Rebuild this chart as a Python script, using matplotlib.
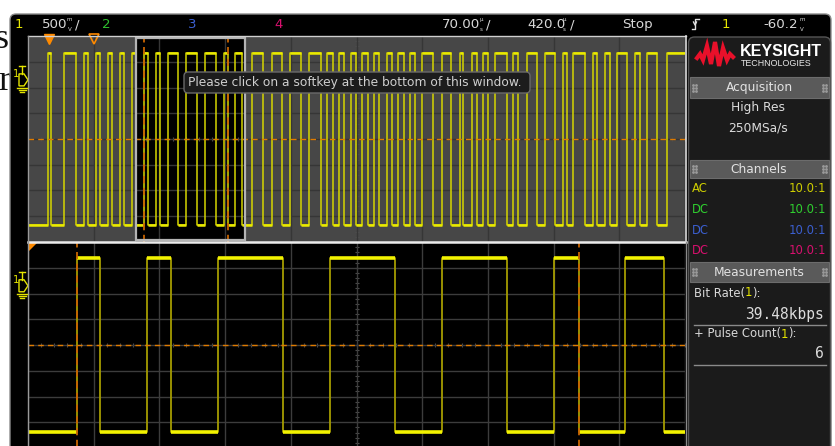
import numpy as np
import matplotlib
matplotlib.use("Agg")
import matplotlib.pyplot as plt
from matplotlib import font_manager
from matplotlib.patches import Rectangle, FancyBboxPatch, Polygon

#%% data
# channel 1 edge times in us (overview time base, 420 us/div), trace starts low
edges_us = [131, 147, 230, 307, 358, 384, 433, 460, 510, 535, 588, 611, 663, 690.5,
            742, 767, 817, 842, 892, 962, 1012, 1081, 1131, 1200, 1250, 1277, 1326, 1368,
            1434, 1504, 1560, 1624, 1678, 1745, 1796, 1870, 1910, 1947, 1991, 2023,
            2065, 2097, 2137, 2174, 2212, 2244, 2293, 2325, 2365, 2404, 2442, 2474,
            2517, 2589, 2645, 2704, 2762, 2781, 2837, 2869, 2909, 2941, 2986, 3060,
            3101, 3133, 3188, 3252, 3305, 3369, 3419, 3443, 3484, 3560, 3612, 3635,
            3688, 3720, 3763, 3828, 3880, 3912, 3955, 4019, 4083]
v_high, v_low = 1.68, -1.68          # volts relative to screen centre
overview_us = (0, 4200)              # 10 div x 420 us
zoom_us = (690, 1390)                # 10 div x 70 us
cursor_us = [742, 1277]
marker_us = [134, 422]
ground_v = 1.15
volts_per_div = 0.5

top_bar = [("1", "#e6e600"), ("500", "#d8d8d8"), ("2", "#2fc02f"), ("3", "#3b5fd0"),
           ("4", "#d8106e"), ("70.00", "#d8d8d8"), ("420.0", "#d8d8d8"), ("Stop", "#d8d8d8"),
           ("1", "#e6e600"), ("-60.2", "#d8d8d8")]
channels = [("AC", "10.0:1", "#cfcf00"), ("DC", "10.0:1", "#2fcf2f"),
            ("DC", "10.0:1", "#3b5fd0"), ("DC", "10.0:1", "#d8106e")]
acq_lines = ["High Res", "250MSa/s"]
bit_rate = "39.48kbps"
pulse_count = "6"
tooltip = "Please click on a softkey at the bottom of this window."

#%% fonts
installed = {f.name for f in font_manager.fontManager.ttflist}
UI = "Liberation Sans Narrow" if "Liberation Sans Narrow" in installed else "DejaVu Sans"
k = 1.0 if UI == "Liberation Sans Narrow" else 0.8

W, H = 835, 446
fig = plt.figure(figsize=(W / 100, H / 100), dpi=100, facecolor="white")


def px_axes(x0, y0, w, h, z=0):
    return fig.add_axes([x0 / W, 1 - (y0 + h) / H, w / W, h / H], zorder=z)


def flat(ax):
    ax.set_xlim(0, W)
    ax.set_ylim(H, 0)
    ax.axis("off")
    ax.patch.set_alpha(0)


def txt(ax, x, y, s, color="#d8d8d8", size=11, ha="left", family=None, **kw):
    return ax.text(x, y, s, color=color, fontsize=size * k if family is None else size,
                   family=family or UI, ha=ha, va="center", zorder=5, **kw)


bg = px_axes(0, 0, W, H, z=0)
flat(bg)

# bits of the document behind the scope window
bg.text(8, 40, "s", family="Liberation Serif", fontsize=26, ha="right", va="center", color="#111111", zorder=1)
bg.text(10, 82, "r", family="Liberation Serif", fontsize=26, ha="right", va="center", color="#111111", zorder=1)
bg.add_patch(FancyBboxPatch((10, 14), 821, 445, boxstyle="round,pad=0,rounding_size=6",
                            fc="black", ec="#8c8c8c", lw=1, zorder=2))

#%% top status bar
bar_x = [15, 42, 102, 188, 274, 442, 527, 622, 722, 763]
for (s, c), x in zip(top_bar, bar_x):
    txt(bg, x, 24.5, s, color=c, size=12)
for x, u1, u2, slash in [(69.5, "m", "V", 75), (481, "µ", "s", 486), (564.5, "µ", "s", 569.5), (802, "m", "V", None)]:
    txt(bg, x, 19.2, u1, size=5, ha="center")
    txt(bg, x, 29.6, u2, size=5, ha="center")
    if slash:
        txt(bg, slash, 24.5, "/", size=12)
bg.plot([692, 695, 695, 699], [29, 29, 19, 19], color="#e0e0e0", lw=1, zorder=5)
bg.plot([693.5, 695, 696.5], [22, 25, 22], color="#e0e0e0", lw=1, zorder=5)


#%% waveform panels
def draw_panel(ax, span, face, grid_c, lw_edge, edge_c, lvl_c, lvl_lw):
    ax.set_facecolor(face)
    ax.set_xlim(*span)
    ax.set_ylim(-4 * volts_per_div, 4 * volts_per_div)
    ax.set_xticks(np.linspace(span[0], span[1], 11))
    ax.set_yticks(np.arange(-4, 5) * volts_per_div)
    ax.grid(True, color=grid_c, lw=1, zorder=1)
    ax.tick_params(length=0, labelbottom=False, labelleft=False)
    for sp in ax.spines.values():
        sp.set_visible(False)
    mid = (span[0] + span[1]) / 2
    ax.plot(np.linspace(span[0], span[1], 51), np.zeros(51), ls="none", marker="|",
            ms=2.5, mew=0.8, color="#4e4e4e", zorder=1.5)
    ax.plot(np.full(41, mid), np.linspace(-2, 2, 41), ls="none", marker="_",
            ms=2.5, mew=0.8, color="#4e4e4e", zorder=1.5)

    t = np.concatenate([[overview_us[0]], edges_us, [overview_us[1]]])
    levels = np.where(np.arange(len(t) - 1) % 2 == 1, v_high, v_low)
    ax.step(t, np.append(levels, levels[-1]), where="post", color=edge_c, lw=lw_edge, zorder=3)
    ax.hlines(levels, t[:-1], t[1:], color=lvl_c, lw=lvl_lw, zorder=3.5)

    ax.axhline(0, color="#e07b00", ls=(0, (4, 3)), lw=1, zorder=4)
    for c in cursor_us:
        ax.axvline(c, color="#c86400", ls=(0, (4, 2.5)), lw=1.3, zorder=4)


ax_up = px_axes(28, 36.2, 657, 205.6, z=1)
ax_up.add_patch(Rectangle((zoom_us[0], -2), zoom_us[1] - zoom_us[0], 4, fc="black", ec="none", zorder=0.5))
draw_panel(ax_up, overview_us, "#474747", "#363636", 1.1, "#d6d600", "#eaea00", 1.8)
ax_up.add_patch(Rectangle((zoom_us[0], -1.96), zoom_us[1] - zoom_us[0], 3.93, fc="none",
                          ec="#b4b4b4", lw=1.6, zorder=4.5))
ax_up.plot(marker_us[:1], [0.985], transform=ax_up.get_xaxis_transform(), marker="v",
           ms=7, color="#ff8a00", clip_on=False, zorder=6)
ax_up.plot(marker_us[1:], [0.985], transform=ax_up.get_xaxis_transform(), marker="v",
           ms=7, mfc="none", mec="#ff8a00", mew=1.2, clip_on=False, zorder=6)

ax_lo = px_axes(28, 242, 657, 206, z=1)
draw_panel(ax_lo, zoom_us, "black", "#3c3c3c", 1.3, "#a49c00", "#f2f200", 2.6)

#%% overlay: frames, ground markers, tooltip
ov = px_axes(0, 0, W, H, z=3)
flat(ov)
ov.plot([28, 686], [36.3, 36.3], color="#d0d0d0", lw=1)
ov.plot([28, 686], [241.7, 241.7], color="#ececec", lw=1.8)
ov.plot([28.3, 28.3], [36, 446], color="#9a9a9a", lw=1)
ov.plot([685.5, 685.5], [36, 241], color="#e0e0e0", lw=1.2)
ov.plot([685.5, 685.5], [242, 446], color="#8a8a8a", lw=1)
ov.add_patch(Polygon([(29, 243), (37, 243), (29, 251)], fc="#ff8a00", ec="none"))

for c_px, d_px in [(139, 25.7), (345, 25.75)]:
    gy = c_px - ground_v / volts_per_div * d_px
    yl = "#e6e600"
    txt(ov, 13, gy - 6, "1", color=yl, size=9)
    ov.plot([19, 25], [gy - 14, gy - 14], color=yl, lw=1)
    ov.plot([22, 22], [gy - 14, gy - 6], color=yl, lw=1)
    ov.add_patch(Polygon([(19, gy - 6), (24, gy - 6), (28, gy), (24, gy + 6), (19, gy + 6)],
                         fc="none", ec=yl, lw=1))
    for w, dy in [(5, 8), (3.5, 10), (2, 12)]:
        ov.plot([22 - w, 22 + w], [gy + dy, gy + dy], color=yl, lw=1)

ov.add_patch(FancyBboxPatch((184, 72), 346, 21, boxstyle="round,pad=0,rounding_size=4",
                            fc="#1c1c1c", ec="#6a6a6a", lw=1, zorder=4))
txt(ov, 188, 82.5, tooltip, color="#cfcfcf", size=11)

#%% right side panel
ov.add_patch(FancyBboxPatch((688.5, 37), 142, 420, boxstyle="round,pad=0,rounding_size=6",
                            fc="#1b1b1b", ec="#555555", lw=1, zorder=1))
logo_x = [697, 700, 703, 707, 711, 715, 719, 723, 727, 730, 733]
logo_y = [58, 54, 60, 46, 64, 42, 66, 48, 60, 54, 57]
ov.plot(logo_x, logo_y, color="#e8102a", lw=3, solid_joinstyle="miter", zorder=2)
ov.text(740, 51, "KEYSIGHT", family="Liberation Sans", weight="bold", fontsize=11.5,
        color="white", va="center", zorder=5)
ov.text(741, 64, "TECHNOLOGIES", family="Liberation Sans", fontsize=6.4,
        color="#e8e8e8", va="center", zorder=5)

for y0, h, name in [(77, 21, "Acquisition"), (160, 18, "Channels"), (262, 20, "Measurements")]:
    ov.add_patch(Rectangle((690, y0), 139, h, fc="#5a5a5a", ec="#6c6c6c", lw=0.8, zorder=2))
    txt(ov, 759, y0 + h / 2 + 0.5, name, color="#e2e2e2", size=11, ha="center")
    for gx in (693, 823):
        ov.scatter([gx, gx + 3] * 3, np.repeat([y0 + h / 2 - 3, y0 + h / 2, y0 + h / 2 + 3], 2),
                   s=1, color="#9a9a9a", zorder=3)

for i, s in enumerate(acq_lines):
    txt(ov, 758, 108 + 20 * i, s, color="#dcdcdc", size=11, ha="center")

for i, (cpl, probe, c) in enumerate(channels):
    y = 189 + 20.5 * i
    txt(ov, 692, y, cpl, color=c, size=10.5)
    txt(ov, 826, y, probe, color=c, size=10.5, ha="right")

txt(ov, 824, 314, bit_rate, color="#dcdcdc", size=10.5, ha="right", family="DejaVu Sans Mono")
ov.plot([694, 826], [324.5, 324.5], color="#8a8a8a", lw=1)
txt(ov, 824, 354, pulse_count, color="#dcdcdc", size=10.5, ha="right", family="DejaVu Sans Mono")
ov.plot([694, 826], [364.5, 364.5], color="#8a8a8a", lw=1)

# measurement labels: "(1)" source number in channel yellow
fig.canvas.draw()
r = fig.canvas.get_renderer()
inv = ov.transData.inverted()
for y, base in [(293, "Bit Rate("), (334, "+ Pulse Count(")]:
    x = 694
    for part, c in [(base, "#d8d8d8"), ("1", "#e6e600"), ("):", "#d8d8d8")]:
        t = txt(ov, x, y, part, color=c, size=10.5)
        x = inv.transform(t.get_window_extent(r).get_points()[1])[0]

fig.savefig("out.png", dpi=100, facecolor="white")
